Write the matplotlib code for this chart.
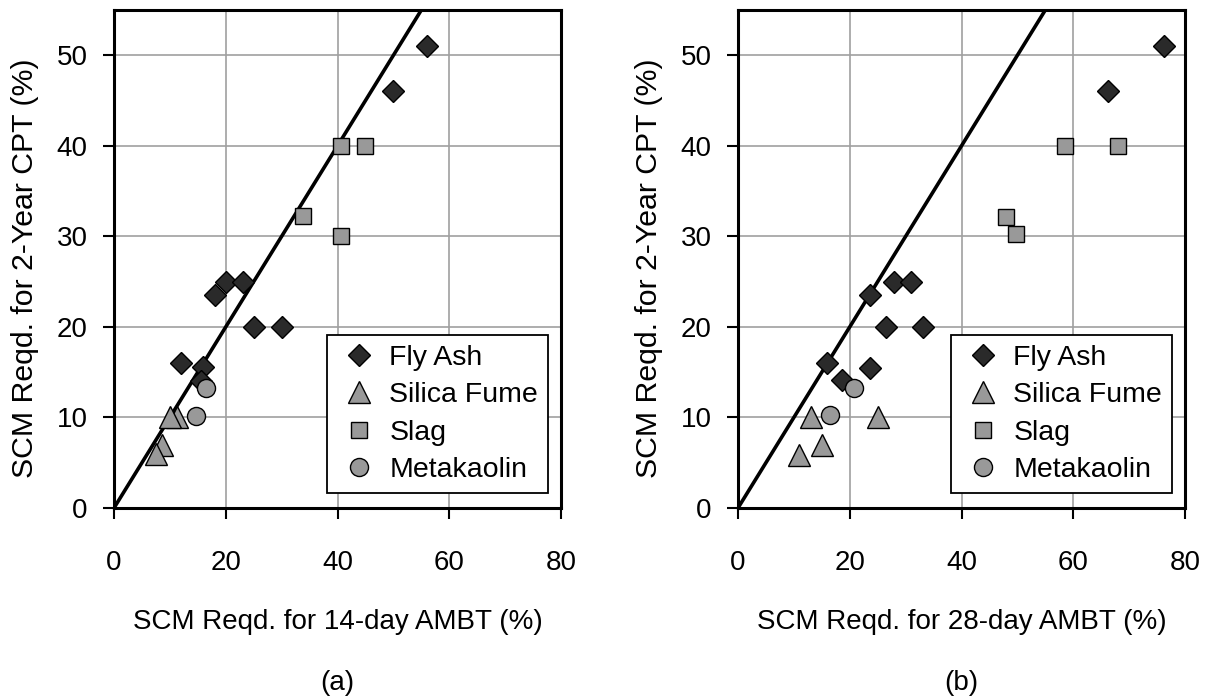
import matplotlib
matplotlib.use("Agg")
import matplotlib.pyplot as plt

plt.rcParams['font.family'] = ['Liberation Sans', 'DejaVu Sans']

# panel (a): 14-day AMBT vs 2-year CPT
fa_x_a = [56, 50, 20, 23, 18, 25, 30, 12, 16, 15.5]
fa_y_a = [51, 46, 25, 25, 23.5, 20, 20, 16, 15.6, 14]
sf_x_a = [11.3, 10, 8.6, 7.6]
sf_y_a = [10, 10, 7, 6]
sl_x_a = [40.7, 45, 33.8, 40.7]
sl_y_a = [40, 40, 32.2, 30]
mk_x_a = [16.4, 14.6]
mk_y_a = [13.2, 10.2]

# panel (b): 28-day AMBT vs 2-year CPT
fa_x_b = [76.3, 66.2, 27.9, 30.9, 23.7, 26.4, 33.1, 16, 23.7, 18.7]
fa_y_b = [51, 46, 25, 25, 23.5, 20, 20, 16, 15.5, 14.1]
sf_x_b = [13, 25, 15, 11]
sf_y_b = [10, 10, 7, 5.8]
sl_x_b = [58.6, 68, 47.9, 49.7]
sl_y_b = [40, 40, 32.1, 30.3]
mk_x_b = [20.7, 16.4]
mk_y_b = [13.3, 10.3]

line_x = [0, 80]
line_y = [0, 80]

fig = plt.figure(figsize=(12.1, 6.98), dpi=100)

panels = [
    (0.0942, fa_x_a, fa_y_a, sf_x_a, sf_y_a, sl_x_a, sl_y_a, mk_x_a, mk_y_a,
     "SCM Reqd. for 14-day AMBT (%)", "(a)"),
    (0.6099, fa_x_b, fa_y_b, sf_x_b, sf_y_b, sl_x_b, sl_y_b, mk_x_b, mk_y_b,
     "SCM Reqd. for 28-day AMBT (%)", "(b)"),
]

for left, fx, fy, sx, sy, lx, ly, mx, my, xlab, tag in panels:
    ax = fig.add_axes([left, 0.2722, 0.3695, 0.7135])
    ax.plot(line_x, line_y, color="black", lw=2.6, zorder=2)
    ax.plot(fx, fy, ls="none", marker="D", ms=11.5, mfc="#2a2a2a", mec="black",
            mew=1.0, label="Fly Ash", zorder=3)
    ax.plot(sx, sy, ls="none", marker="^", ms=16, mfc="#999999", mec="black",
            mew=1.0, label="Silica Fume", zorder=3)
    ax.plot(lx, ly, ls="none", marker="s", ms=11, mfc="#999999", mec="black",
            mew=1.0, label="Slag", zorder=3)
    ax.plot(mx, my, ls="none", marker="o", ms=13, mfc="#999999", mec="black",
            mew=1.0, label="Metakaolin", zorder=3)

    ax.set_xlim(0, 80)
    ax.set_ylim(0, 55)
    ax.set_xticks([0, 20, 40, 60, 80])
    ax.set_yticks([0, 10, 20, 30, 40, 50])
    ax.grid(True, color="#a0a0a0", lw=1.2, zorder=0)
    ax.set_axisbelow(True)
    for s in ax.spines.values():
        s.set_linewidth(2.2)
    ax.tick_params(direction="out", length=8, width=1.5, labelsize=20)
    ax.tick_params(axis="x", pad=22)
    ax.tick_params(axis="y", pad=11)
    ax.set_xlabel(xlab, fontsize=20, labelpad=24)
    ax.set_ylabel("SCM Reqd. for 2-Year CPT (%)", fontsize=21.8)
    ax.yaxis.set_label_coords(-0.167, 0.482)
    fig.text(left + 0.3695 / 2, 1 - 683 / 698, tag, ha="center", va="center",
             fontsize=20)

    leg = ax.legend(loc="lower right", fontsize=20.5, frameon=True, fancybox=False,
                    edgecolor="black", framealpha=1, borderpad=0.35,
                    handletextpad=0.3, labelspacing=0.4, handlelength=1.55,
                    borderaxespad=0, bbox_to_anchor=(0.971, 0.03))
    leg.get_frame().set_linewidth(1.3)

fig.savefig("out.png", dpi=100)
